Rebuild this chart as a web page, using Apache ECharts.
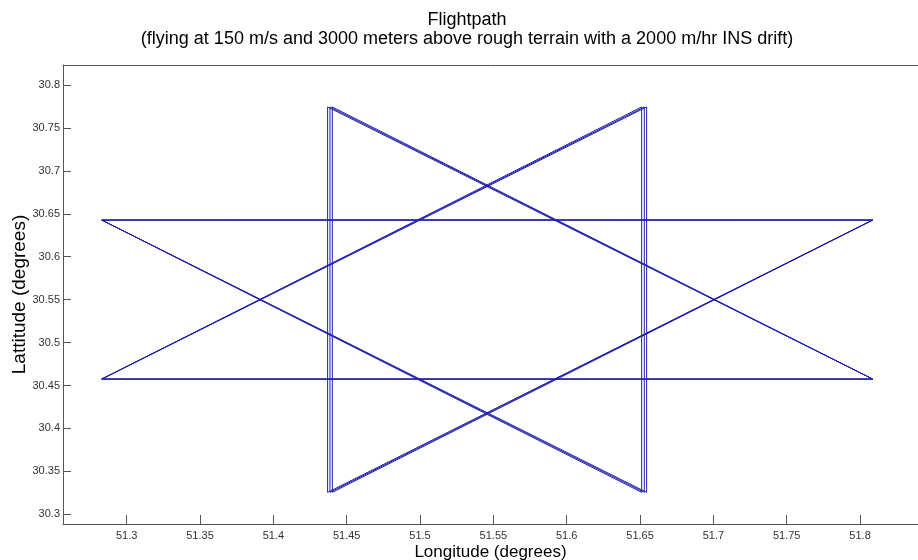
<!DOCTYPE html>
<html>
<head>
<meta charset="utf-8">
<script src="https://cdn.jsdelivr.net/npm/echarts@6/dist/echarts.min.js"></script>
<style>
html,body{margin:0;padding:0;background:#fff;}
#chart{width:918px;height:560px;}
</style>
</head>
<body>
<div id="chart"></div>
<script>
// Flight path waypoints (longitude, latitude), three laps with INS drift
const pathLon = [
  51.2830, 51.8086, 51.4370, 51.4370, 51.8086, 51.2830, 51.6511, 51.6511,
  51.2830, 51.8086, 51.4386, 51.4386, 51.8086, 51.2830, 51.6529, 51.6529,
  51.2830, 51.8086, 51.4402, 51.4402, 51.8086, 51.2830, 51.6545, 51.6545,
  51.2830
];
const pathLat = [
  30.6427, 30.6427, 30.3256, 30.7744, 30.4575, 30.4575, 30.7744, 30.3256,
  30.6427, 30.6427, 30.3256, 30.7744, 30.4575, 30.4575, 30.7744, 30.3256,
  30.6427, 30.6427, 30.3256, 30.7744, 30.4575, 30.4575, 30.7744, 30.3256,
  30.6427
];
const xTicks = [51.3, 51.35, 51.4, 51.45, 51.5, 51.55, 51.6, 51.65, 51.7, 51.75, 51.8];
const yTicks = [30.3, 30.35, 30.4, 30.45, 30.5, 30.55, 30.6, 30.65, 30.7, 30.75, 30.8];
const xRange = [51.2566, 51.8395];
const yRange = [30.2887, 30.8233];

const titleText = 'Flightpath\n(flying at 150 m/s and 3000 meters above rough terrain with a 2000 m/hr INS drift)';
const xName = 'Longitude (degrees)';
const yName = 'Lattitude (degrees)';

const pathData = pathLon.map((lon, i) => [lon, pathLat[i]]);

const font = 'Liberation Sans, Arial, sans-serif';
const axisColor = '#555';

const chart = echarts.init(document.getElementById('chart'), null, {renderer: 'canvas'});
chart.setOption({
  backgroundColor: '#fff',
  animation: false,
  title: {
    text: titleText,
    left: 467,
    top: 11,
    padding: 0,
    textAlign: 'center',
    textStyle: {fontFamily: font, fontSize: 18, fontWeight: 'normal', color: '#000', lineHeight: 19}
  },
  grid: {left: 63, right: 0, top: 65, bottom: 36, containLabel: false, outerBoundsMode: 'none'},
  xAxis: [{
    type: 'value',
    position: 'bottom',
    min: xRange[0],
    max: xRange[1],
    name: xName,
    nameLocation: 'middle',
    nameGap: 20,
    nameMoveOverlap: false,
    nameTextStyle: {fontFamily: font, fontSize: 17, color: '#000'},
    axisLine: {show: true, lineStyle: {color: axisColor, width: 1}},
    axisTick: {show: true, inside: true, length: 9, customValues: xTicks, lineStyle: {color: axisColor}},
    axisLabel: {customValues: xTicks, margin: 6, fontFamily: font, fontSize: 11, color: '#333'},
    splitLine: {show: false}
  }, {
    type: 'value',
    position: 'top',
    min: xRange[0],
    max: xRange[1],
    axisLine: {show: true, lineStyle: {color: axisColor, width: 1}},
    axisTick: {show: false},
    axisLabel: {show: false},
    splitLine: {show: false}
  }],
  yAxis: {
    type: 'value',
    min: yRange[0],
    max: yRange[1],
    name: yName,
    nameLocation: 'middle',
    nameGap: 34,
    nameMoveOverlap: false,
    nameTextStyle: {fontFamily: font, fontSize: 19, color: '#000'},
    axisLine: {show: true, lineStyle: {color: axisColor, width: 1}},
    axisTick: {show: true, inside: true, length: 8, customValues: yTicks, lineStyle: {color: axisColor}},
    axisLabel: {customValues: yTicks, margin: 3, fontFamily: font, fontSize: 11, color: '#333'},
    splitLine: {show: false}
  },
  series: [{
    type: 'line',
    data: pathData,
    xAxisIndex: 0,
    showSymbol: false,
    symbol: 'none',
    lineStyle: {color: '#1f1faa', width: 1},
    clip: true
  }]
});
</script>
</body>
</html>
